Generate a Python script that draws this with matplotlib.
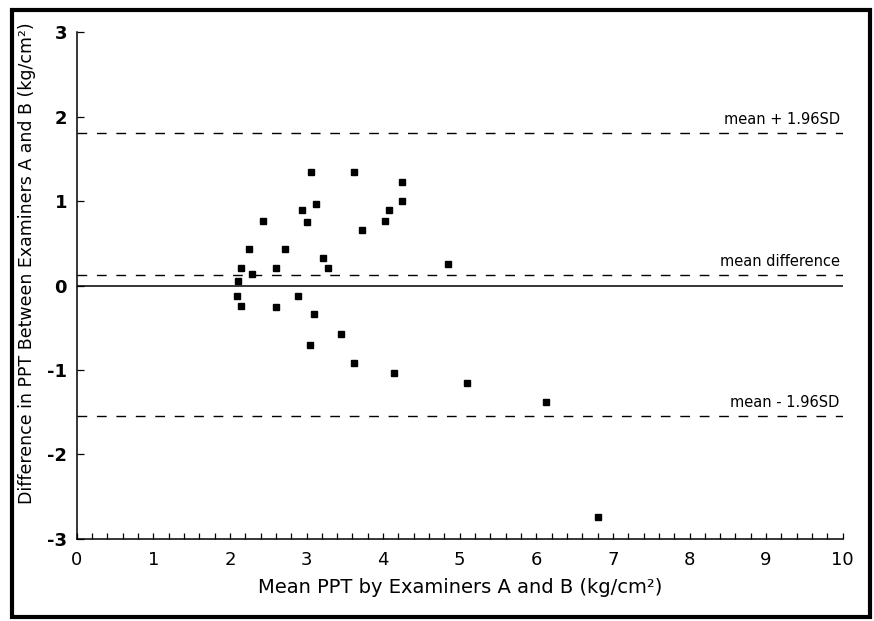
#=========================================================================
import numpy as np
import matplotlib
matplotlib.use('Agg')
import matplotlib.pyplot as plt
from matplotlib.patches import Rectangle
from matplotlib.ticker import MultipleLocator

plt.rcParams['axes.unicode_minus'] = False

#=========================================================================
# mean PPT (x) and difference (y)
mean_ppt = [3.06, 3.62, 4.25, 3.12, 4.25, 2.94, 4.08, 2.43, 4.02, 3.01,
            3.73, 2.25, 2.72, 3.22, 2.14, 2.60, 3.28, 2.29, 4.85, 2.11,
            2.09, 2.14, 2.60, 2.89, 3.10, 3.45, 3.05, 3.62, 4.14, 5.09,
            6.12, 6.81]
diff_ppt = [1.34, 1.34, 1.23, 0.97, 1.00, 0.89, 0.89, 0.77, 0.77, 0.75,
            0.66, 0.43, 0.43, 0.32, 0.21, 0.21, 0.21, 0.14, 0.25, 0.05,
            -0.13, -0.24, -0.25, -0.13, -0.34, -0.58, -0.70, -0.92, -1.04, -1.15,
            -1.38, -2.74]

mean_diff = 0.13
upper_loa = 1.81
lower_loa = -1.55

ref_lines = [upper_loa, mean_diff, lower_loa]
ref_labels = ['mean + 1.96SD', 'mean difference', 'mean - 1.96SD']

xticks = np.arange(0, 11, 1)
yticks = np.arange(-3, 4, 1)

#=========================================================================
fig = plt.figure(figsize=(8.74, 6.21), dpi=100)
ax = fig.add_axes([0.0878, 0.1325, 0.8764, 0.8155])

# data points
ax.plot(mean_ppt, diff_ppt, 's', color='black', markersize=4.2, zorder=3)

# zero line
ax.axhline(0.0, color='black', lw=1.1)

# mean and limits of agreement
for yv, lab in zip(ref_lines, ref_labels):
  ax.axhline(yv, color='black', lw=1.0, dashes=(7, 7))
  ax.text(9.96, yv + 0.07, lab, ha='right', va='bottom', fontsize=10.5)

#-------------------------------------------------------------------------
ax.set_xlim(0, 10)
ax.set_ylim(-3, 3)
ax.set_xticks(xticks)
ax.set_yticks(yticks)
ax.xaxis.set_minor_locator(MultipleLocator(0.2))

ax.spines['top'].set_visible(False)
ax.spines['right'].set_visible(False)
ax.spines['left'].set_linewidth(1.1)
ax.spines['bottom'].set_linewidth(1.1)

ax.tick_params(axis='x', which='both', direction='in', length=4, width=0.9,
               labelsize=13, pad=9)
ax.tick_params(axis='y', which='major', direction='in', length=5, width=0.9,
               labelsize=13, pad=7)
for lab in ax.get_yticklabels():
  lab.set_fontweight('bold')

ax.set_xlabel('Mean PPT by Examiners A and B (kg/cm²)', fontsize=14, labelpad=6)
ax.set_ylabel('Difference in PPT Between Examiners A and B (kg/cm²)', fontsize=12.5)
ax.yaxis.set_label_coords(-0.053, 0.544)

# thick frame around the whole figure
fig.patches.append(Rectangle((12/874, 4/621), 858/874, 607/621, transform=fig.transFigure,
                             fill=False, edgecolor='black', lw=3.0))

plt.savefig('out.png', dpi=100)
